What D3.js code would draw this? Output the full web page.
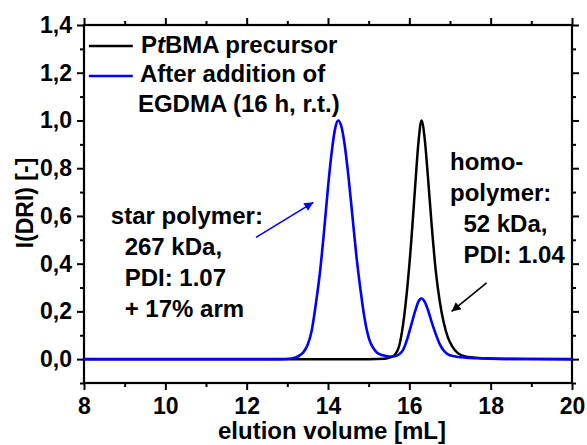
<!DOCTYPE html>
<html>
<head>
<meta charset="utf-8">
<script src="https://cdn.jsdelivr.net/npm/d3@7"></script>
<style>
  html, body { margin: 0; padding: 0; background: #fff; }
  svg text { font-family: "Liberation Sans", Arial, sans-serif; font-weight: bold; fill: #000; }
</style>
</head>
<body>
<svg id="chart" width="587" height="445"></svg>
<script>
// ---- data ----
const precursorX = [8.0, 13.0, 15.0, 15.4, 15.55, 15.65, 15.75, 15.85, 15.95, 16.05, 16.15, 16.22, 16.3, 16.38, 16.45, 16.55, 16.65, 16.75, 16.85, 16.95, 17.05, 17.2, 17.4, 17.7, 18.0, 18.5, 20.0];
const precursorY = [0.0, 0.0, 0.0, 0.002, 0.008, 0.02, 0.055, 0.15, 0.30, 0.50, 0.74, 0.90, 1.0, 0.92, 0.78, 0.56, 0.37, 0.24, 0.15, 0.09, 0.055, 0.024, 0.010, 0.005, 0.003, 0.001, 0.0];

const starX = [8.0, 12.8, 13.1, 13.25, 13.4, 13.5, 13.6, 13.7, 13.8, 13.9, 14.0, 14.1, 14.18, 14.25, 14.32, 14.4, 14.5, 14.6, 14.7, 14.8, 14.9, 15.0, 15.1, 15.2, 15.35, 15.5, 15.65, 15.75, 15.85, 15.95, 16.05, 16.15, 16.22, 16.3, 16.38, 16.46, 16.55, 16.65, 16.75, 16.85, 16.95, 17.1, 17.4, 17.8, 18.5, 20.0];
const starY = [0.0, 0.0, 0.003, 0.01, 0.03, 0.06, 0.12, 0.23, 0.36, 0.53, 0.72, 0.88, 0.97, 1.0, 0.98, 0.91, 0.77, 0.60, 0.43, 0.29, 0.17, 0.09, 0.05, 0.028, 0.016, 0.011, 0.012, 0.02, 0.04, 0.085, 0.145, 0.205, 0.24, 0.254, 0.24, 0.205, 0.155, 0.105, 0.062, 0.035, 0.02, 0.012, 0.006, 0.003, 0.001, 0.0];

const xMajorTicks = [8, 10, 12, 14, 16, 18, 20];
const xMinorTicks = [9, 11, 13, 15, 17, 19];
const yMajorTicks = [0.0, 0.2, 0.4, 0.6, 0.8, 1.0, 1.2, 1.4];
const yMinorTicks = [-0.1, 0.1, 0.3, 0.5, 0.7, 0.9, 1.1, 1.3];

const seriesNames = ["PtBMA precursor", "After addition of", "EGDMA (16 h, r.t.)"];
const starNote = ["star polymer:", "267 kDa,", "PDI: 1.07", "+ 17% arm"];
const homoNote = ["homo-", "polymer:", "52 kDa,", "PDI: 1.04"];

// ---- layout ----
const svg = d3.select("#chart");
const L = 84, R = 572, T = 25, B = 383;
const x = d3.scaleLinear().domain([8, 20]).range([L, R]);
const y = d3.scaleLinear().domain([-0.1, 1.4]).range([B, T]);

const fmtY = v => d3.format(".1f")(v).replace(".", ",");
const FS = "24px";

function styleAxis(g) {
  g.select(".domain").remove();
  g.selectAll(".tick line").attr("stroke", "#000").attr("stroke-width", 2);
  g.selectAll(".tick text").style("font-size", "23px").style("font-family", "'Liberation Sans', Arial, sans-serif").style("font-weight", "bold");
}

// bottom
svg.append("g").attr("transform", `translate(0,${B})`)
  .call(d3.axisBottom(x).tickValues(xMajorTicks).tickSize(7).tickPadding(8).tickFormat(d3.format("d")))
  .call(styleAxis);
svg.append("g").attr("transform", `translate(0,${B})`)
  .call(d3.axisBottom(x).tickValues(xMinorTicks).tickSize(4).tickFormat(""))
  .call(styleAxis);
// top
svg.append("g").attr("transform", `translate(0,${T})`)
  .call(d3.axisTop(x).tickValues(xMajorTicks).tickSize(7).tickFormat(""))
  .call(styleAxis);
svg.append("g").attr("transform", `translate(0,${T})`)
  .call(d3.axisTop(x).tickValues(xMinorTicks).tickSize(4).tickFormat(""))
  .call(styleAxis);
// left
svg.append("g").attr("transform", `translate(${L},0)`)
  .call(d3.axisLeft(y).tickValues(yMajorTicks).tickSize(7).tickPadding(5).tickFormat(fmtY))
  .call(styleAxis);
svg.append("g").attr("transform", `translate(${L},0)`)
  .call(d3.axisLeft(y).tickValues(yMinorTicks).tickSize(4).tickFormat(""))
  .call(styleAxis);
// right
svg.append("g").attr("transform", `translate(${R},0)`)
  .call(d3.axisRight(y).tickValues(yMajorTicks).tickSize(7).tickFormat(""))
  .call(styleAxis);
svg.append("g").attr("transform", `translate(${R},0)`)
  .call(d3.axisRight(y).tickValues(yMinorTicks).tickSize(4).tickFormat(""))
  .call(styleAxis);

// frame
svg.append("rect").attr("x", L).attr("y", T).attr("width", R - L).attr("height", B - T)
  .attr("fill", "none").attr("stroke", "#000").attr("stroke-width", 2.2);

// axis titles
svg.append("text").attr("x", (L + R) / 2 + 4).attr("y", 439).attr("text-anchor", "middle")
  .style("font-size", FS).text("elution volume [mL]");
svg.append("text").attr("transform", `translate(33,${(T + B) / 2 - 1}) rotate(-90)`).attr("text-anchor", "middle")
  .style("font-size", "23px").text("I(DRI) [-]");

// curves
const line = d3.line().x(d => x(d[0])).y(d => y(d[1])).curve(d3.curveMonotoneX);
svg.append("clipPath").attr("id", "plotclip").append("rect")
  .attr("x", L).attr("y", T).attr("width", R - L).attr("height", B - T);
svg.append("path").datum(d3.zip(precursorX, precursorY)).attr("d", line)
  .attr("fill", "none").attr("stroke", "#000").attr("stroke-width", 2.5).attr("clip-path", "url(#plotclip)");
svg.append("path").datum(d3.zip(starX, starY)).attr("d", line)
  .attr("fill", "none").attr("stroke", "#0000ff").attr("stroke-width", 2.6).attr("clip-path", "url(#plotclip)");

// legend
const legX0 = x(8.12), legX1 = x(9.2), legTextX = x(9.4);
svg.append("line").attr("x1", legX0).attr("x2", legX1).attr("y1", y(1.312)).attr("y2", y(1.312))
  .attr("stroke", "#000").attr("stroke-width", 2.5);
svg.append("line").attr("x1", legX0).attr("x2", legX1).attr("y1", y(1.186)).attr("y2", y(1.186))
  .attr("stroke", "#0000ff").attr("stroke-width", 2.5);
const t1 = svg.append("text").attr("x", legTextX).attr("y", y(1.282)).style("font-size", FS);
t1.append("tspan").text("P");
t1.append("tspan").style("font-style", "italic").text("t");
t1.append("tspan").text(seriesNames[0].slice(2));
svg.append("text").attr("x", legTextX - 1).attr("y", y(1.160)).style("font-size", FS).text(seriesNames[1]);
svg.append("text").attr("x", legTextX - 3).attr("y", y(1.035)).style("font-size", FS).text(seriesNames[2]);

// annotations
const noteX = [8.66, 9.0, 9.0, 9.0];
starNote.forEach((s, i) => {
  svg.append("text").attr("x", x(noteX[i])).attr("y", y(0.566 - i * 0.13)).style("font-size", FS).text(s);
});
const homoX = [17.0, 17.0, 17.33, 17.33];
homoNote.forEach((s, i) => {
  svg.append("text").attr("x", x(homoX[i])).attr("y", y(0.792 - i * 0.13)).style("font-size", FS).text(s);
});

// arrows
const defs = svg.append("defs");
[["arrBlue", "#0000ff"], ["arrBlack", "#000"]].forEach(([id, c]) => {
  defs.append("marker").attr("id", id).attr("viewBox", "0 0 10 10").attr("refX", 10).attr("refY", 5)
    .attr("markerWidth", 11).attr("markerHeight", 9).attr("markerUnits", "userSpaceOnUse").attr("orient", "auto")
    .append("path").attr("d", "M0,0 L10,5 L0,10 z").attr("fill", c);
});
svg.append("line").attr("x1", x(12.23)).attr("y1", y(0.51)).attr("x2", x(13.64)).attr("y2", y(0.657))
  .attr("stroke", "#0000ff").attr("stroke-width", 1.6).attr("marker-end", "url(#arrBlue)");
svg.append("line").attr("x1", x(17.9)).attr("y1", y(0.32)).attr("x2", x(17.04)).attr("y2", y(0.2))
  .attr("stroke", "#000").attr("stroke-width", 1.6).attr("marker-end", "url(#arrBlack)");
</script>
</body>
</html>
